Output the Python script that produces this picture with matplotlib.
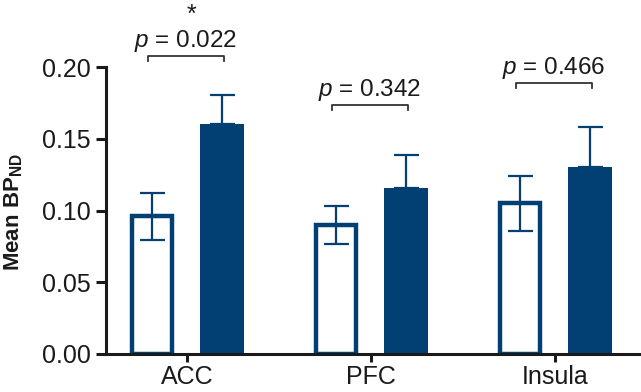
import matplotlib
matplotlib.use('Agg')
import matplotlib.pyplot as plt
import numpy as np

plt.rcParams['font.family'] = 'Liberation Sans'
plt.rcParams['mathtext.fontset'] = 'custom'
plt.rcParams['mathtext.rm'] = 'Liberation Sans'
plt.rcParams['mathtext.it'] = 'Liberation Sans:italic'
plt.rcParams['mathtext.bf'] = 'Liberation Sans:bold'

# data
regions = ['ACC', 'PFC', 'Insula']
open_mean = [0.096, 0.090, 0.105]
open_sem = [0.0165, 0.013, 0.019]
filled_mean = [0.160, 0.116, 0.130]
filled_sem = [0.0205, 0.023, 0.028]
p_labels = ['0.022', '0.342', '0.466']
bracket_y = [0.2077, 0.1735, 0.1889]
stars = ['*', '', '']

blue = '#023f73'
txt = '#1a1a1a'

fig = plt.figure(figsize=(6.41, 3.92), dpi=100)
ax = fig.add_axes([0.165, 0.097, 0.833, 0.732])

x = np.arange(len(regions))
w = 0.22
off = 0.19

ax.bar(x - off, open_mean, w, color='white', edgecolor=blue, linewidth=3.2, zorder=2)
ax.bar(x + off, filled_mean, w + 0.02, color=blue, edgecolor=blue, linewidth=0, zorder=2)
ax.errorbar(x - off, open_mean, yerr=open_sem, fmt='none', ecolor=blue,
            elinewidth=1.6, capsize=9, capthick=1.6, zorder=3)
ax.errorbar(x + off, filled_mean, yerr=[np.zeros(3), filled_sem], fmt='none',
            ecolor=blue, elinewidth=1.6, capsize=9, capthick=1.6, zorder=1)

# significance brackets
for i in range(len(regions)):
    y = bracket_y[i]
    x0, x1 = x[i] - 0.21, x[i] + 0.2
    ax.plot([x0, x0, x1, x1], [y - 0.0035, y, y, y - 0.0035], color='#333333',
            lw=1.3, clip_on=False)
    ax.text((x0 + x1) / 2, y + 0.0062, '$p$ = ' + p_labels[i], ha='center',
            va='baseline', fontsize=17.5, color=txt, clip_on=False)
    if stars[i]:
        ax.text((x0 + x1) / 2 + 0.03, y + 0.0237, stars[i], ha='center', va='baseline',
                fontsize=18, color=txt, clip_on=False)

ax.set_xlim(-0.44, 2.46)
ax.set_ylim(0, 0.20)
ax.set_yticks([0.0, 0.05, 0.10, 0.15, 0.20])
ax.set_yticklabels(['0.00', '0.05', '0.10', '0.15', '0.20'])
ax.set_xticks(x)
ax.set_xticklabels(regions)
ax.tick_params(axis='y', labelsize=18, width=2.2, length=7, pad=4, colors=txt)
ax.tick_params(axis='x', labelsize=18, width=2.2, length=6, pad=2, colors=txt)

for s in ['top', 'right']:
    ax.spines[s].set_visible(False)
for s in ['left', 'bottom']:
    ax.spines[s].set_linewidth(2.2)
    ax.spines[s].set_color(txt)

fig.text(0.021, 0.46, r'$\mathbf{Mean\ BP_{ND}}$', rotation=90, ha='center',
         va='center', fontsize=16, color=txt)

fig.savefig('out.png', dpi=100)
